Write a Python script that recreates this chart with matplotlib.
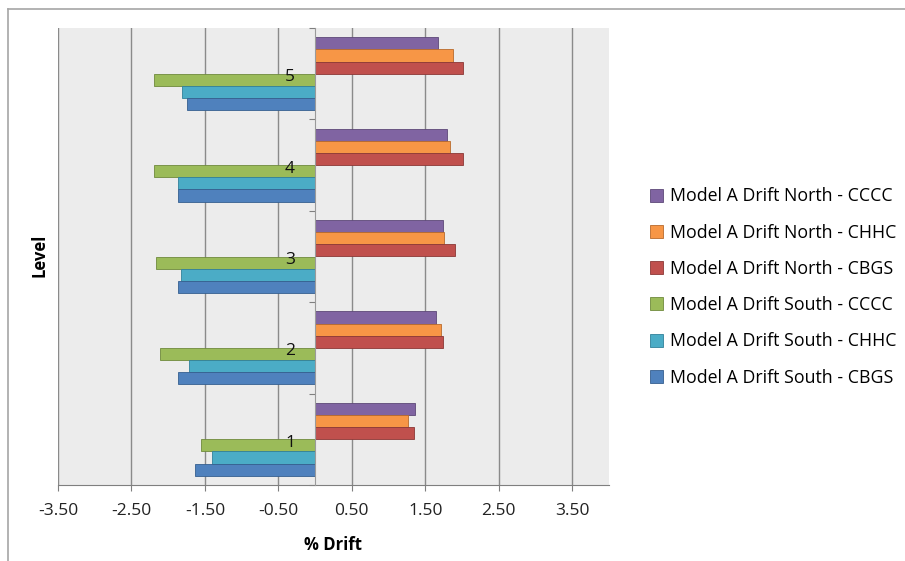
import numpy as np
import matplotlib
matplotlib.use("Agg")
import matplotlib.pyplot as plt
from matplotlib.lines import Line2D
from matplotlib.ticker import FixedLocator, NullFormatter

# ============ Data ============
levels = [1, 2, 3, 4, 5]
series_names = [
    "Model A Drift North - CCCC",
    "Model A Drift North - CHHC",
    "Model A Drift North - CBGS",
    "Model A Drift South - CCCC",
    "Model A Drift South - CHHC",
    "Model A Drift South - CBGS",
]
north_cccc = [1.36, 1.64, 1.74, 1.80, 1.67]
north_chhc = [1.27, 1.71, 1.76, 1.84, 1.87]
north_cbgs = [1.35, 1.74, 1.90, 2.01, 2.01]
south_cccc = [-1.55, -2.11, -2.16, -2.20, -2.19]
south_chhc = [-1.41, -1.72, -1.83, -1.87, -1.81]
south_cbgs = [-1.63, -1.86, -1.86, -1.86, -1.74]
x_ticks = [-3.5, -2.5, -1.5, -0.5, 0.5, 1.5, 2.5, 3.5]

colors = ["#8064A2", "#F79646", "#C0504D", "#9BBB59", "#4BACC6", "#4F81BD"]
edges = ["#5d4878", "#b86a2c", "#8c3836", "#6f8a3c", "#31819a", "#365f8f"]

plt.rcParams["font.family"] = ["Open Sans", "DejaVu Sans"]

fig = plt.figure(figsize=(9.05, 5.61), dpi=100)
# chart area border (only top and left edges are visible in the crop)
fig.add_artist(Line2D([8 / 905, 1.0], [1 - 9 / 561, 1 - 9 / 561], transform=fig.transFigure,
                      color="#a6a6a6", lw=1.2))
fig.add_artist(Line2D([8 / 905, 8 / 905], [0.0, 1 - 9 / 561], transform=fig.transFigure,
                      color="#a6a6a6", lw=1.2))

ax = fig.add_axes([58 / 905, 76 / 561, 551 / 905, 457 / 561])
ax.set_facecolor("#ececec")

all_series = [north_cccc, north_chhc, north_cbgs, south_cccc, south_chhc, south_cbgs]
bar_h = 1 / 7.5
y = np.array(levels, dtype=float)
for k, (vals, name) in enumerate(zip(all_series, series_names)):
    ax.barh(y + (2.5 - k) * bar_h, vals, height=bar_h, color=colors[k],
            edgecolor=edges[k], linewidth=0.6, label=name, zorder=3)

ax.set_xlim(-3.5, 4.0)
ax.set_ylim(0.5, 5.5)

# x axis
ax.set_xticks(x_ticks)
ax.set_xticklabels([f"{t:.2f}" for t in x_ticks], fontsize=12.5, color="#222222")
ax.tick_params(axis="x", length=4, color="#7f7f7f", pad=9)
ax.grid(axis="x", color="#8a8a8a", lw=1, zorder=1)

# category axis crossing at zero
ax.spines["left"].set_position(("data", 0))
ax.spines["left"].set_color("#9a9a9a")
ax.spines["left"].set_zorder(4)
ax.spines["bottom"].set_color("#7f7f7f")
ax.spines["top"].set_visible(False)
ax.spines["right"].set_visible(False)
ax.yaxis.set_major_locator(FixedLocator(np.arange(0.5, 5.6, 1.0)))
ax.yaxis.set_major_formatter(NullFormatter())
ax.tick_params(axis="y", which="major", length=4, color="#7f7f7f")

# category labels sit next to the zero axis, drawn over the bars
for lv in levels:
    ax.annotate(str(lv), xy=(0, lv), xytext=(-14.5, -2.5), textcoords="offset points",
                ha="right", va="center", fontsize=12.5, color="#111111", zorder=6)

fig.text(40 / 905, 1 - 255 / 561, "Level", rotation=90, fontsize=12, fontweight="bold",
         ha="center", va="center")
fig.text(333 / 905, 1 - 545 / 561, "% Drift", fontsize=12, fontweight="bold",
         ha="center", va="center")

handles, labels = ax.get_legend_handles_labels()
fig.legend(handles, labels, loc="center left", bbox_to_anchor=(634 / 905, 1 - 287 / 561),
           frameon=False, fontsize=12.8, handlelength=0.75, handleheight=0.75,
           handletextpad=0.35, labelspacing=1.03)

fig.savefig("out.png", dpi=100)
